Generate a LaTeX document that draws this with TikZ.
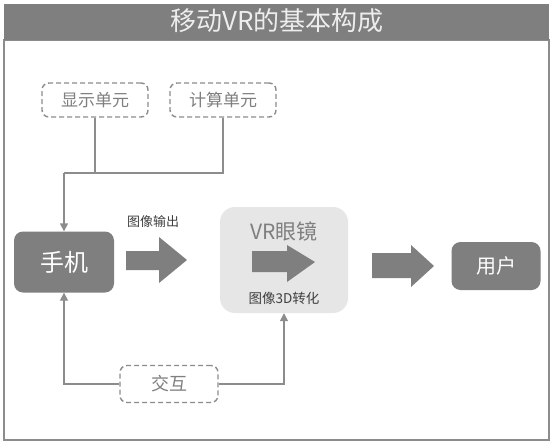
\documentclass[tikz,border=0pt]{standalone}
\usepackage{fontspec}
\newfontfamily\cjk{Noto Sans CJK SC}
\newfontfamily\cjkl{Noto Sans CJK SC Light}
\usetikzlibrary{arrows.meta}
\definecolor{dg}{HTML}{7F7F7F}
\definecolor{lg}{HTML}{E6E6E6}
\definecolor{ln}{HTML}{8C8C8C}
\begin{document}
\begin{tikzpicture}[x=1pt,y=-1pt,
  dbox/.style={draw=ln,line width=1.4pt,dash pattern=on 5pt off 3pt,rounded corners=7pt,fill=white,text=dg,font=\cjk\fontsize{17}{17}\selectfont,inner sep=0pt},
  solidbox/.style={fill=dg,rounded corners=9pt,text=white,inner sep=0pt},
  conn/.style={draw=ln,line width=1.4pt},
  tip/.style={-{Triangle[length=8pt,width=8pt]}},
  blockarrow/.style={fill=dg}]
\useasboundingbox (0,0) rectangle (554,447);
\fill[white] (0,0) rectangle (554,447);
% frame and title
\draw[ln,line width=1.2pt] (4,40) rectangle (549,440);
\fill[dg] (4,4) rectangle (549,40);
\node[text=white!93!black,font=\cjk\fontsize{26}{26}\selectfont] (title) at (277,21) {移动VR的基本构成};
% dashed boxes
\node[dbox,minimum width=106pt,minimum height=34pt] (disp) at (95,100) {显示单元};
\node[dbox,minimum width=106pt,minimum height=34pt] (comp) at (223,100) {计算单元};
\node[dbox,minimum width=98pt,minimum height=37pt,font=\cjk\fontsize{18}{18}\selectfont] (inter) at (169,384) {交互};
% phone
\node[solidbox,minimum width=100pt,minimum height=61pt,font=\cjk\fontsize{24}{24}\selectfont] (phone) at (64,262) {手机};
% VR glasses
\node[fill=lg,rounded corners=15pt,minimum width=128pt,minimum height=106pt,inner sep=0pt] (vr) at (284,260) {};
\node[text=dg,font=\cjk\fontsize{21}{21}\selectfont] (vrt) at (284,231) {VR眼镜};
\node[text=black!75,font=\cjk\fontsize{13.5}{13.5}\selectfont] (vrl) at (284,298) {图像3D转化};
% user
\node[solidbox,minimum width=89pt,minimum height=48pt,font=\cjk\fontsize{20}{20}\selectfont] (user) at (496,266) {用户};
% label
\node[text=black!75,font=\cjk\fontsize{13}{13}\selectfont] (outl) at (153,222) {图像输出};
% block arrows
\fill[blockarrow] (126,251) -- (159,251) -- (159,237) -- (187,260) -- (159,283) -- (159,270) -- (126,270) -- cycle;
\fill[blockarrow] (252,251) -- (287,251) -- (287,245) -- (315,262) -- (287,282) -- (287,272) -- (252,272) -- cycle;
\fill[blockarrow] (372,253) -- (411,253) -- (411,245) -- (434,266) -- (411,287) -- (411,278) -- (372,278) -- cycle;
% connectors
\coordinate (j) at (64,173);
\draw[conn] (disp.south) |- (j);
\draw[conn] (comp.south) |- (j);
\draw[conn,tip] (j) -- (phone.north);
\draw[conn,tip] (inter.west) -| (phone.south);
\draw[conn,tip] (inter.east) -| (vr.south);
\end{tikzpicture}
\end{document}
